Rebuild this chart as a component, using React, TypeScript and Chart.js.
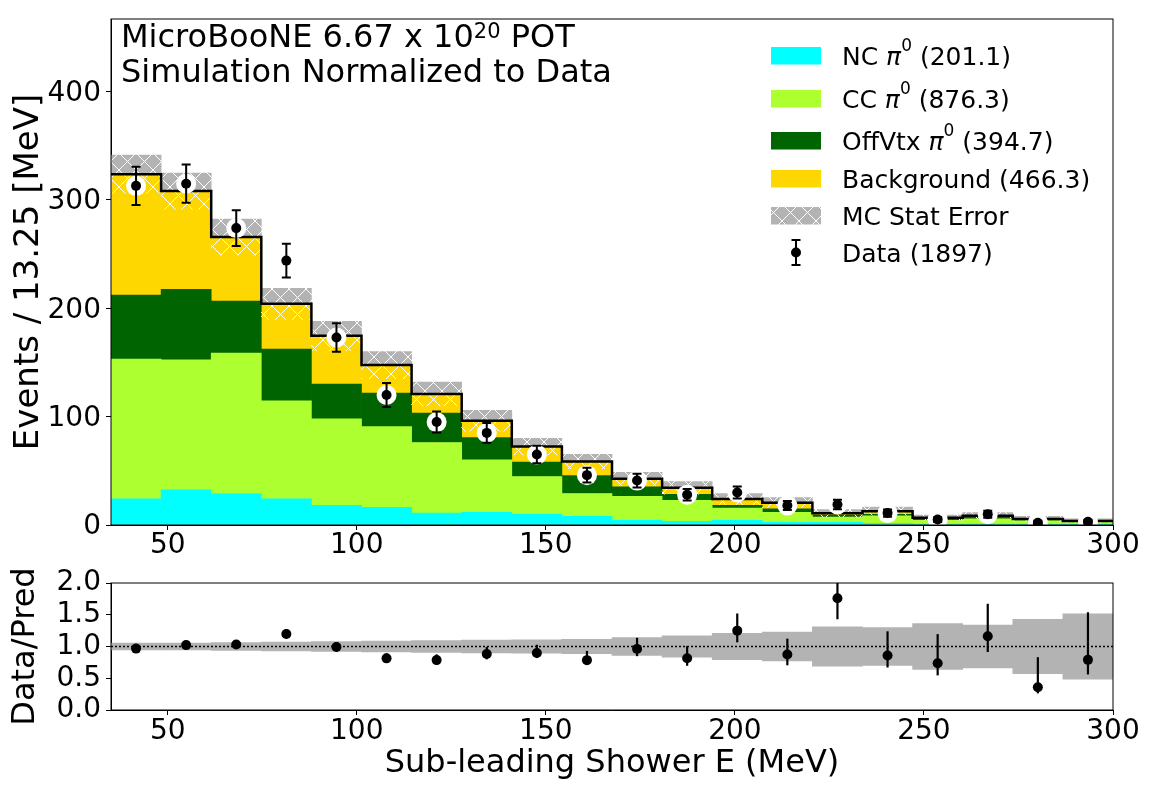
import React, { useEffect, useRef } from 'react';
import { Chart, registerables } from 'chart.js';

Chart.register(...registerables);

const FONT = "'DejaVu Sans', 'Noto Sans', sans-serif";

// histogram binning, sub-leading shower energy (MeV)
const binEdges = [35, 48.25, 61.5, 74.75, 88, 101.25, 114.5, 127.75, 141, 154.25, 167.5, 180.75, 194, 207.25, 220.5, 233.75, 247, 260.25, 273.5, 286.75, 300];

// stacked simulation, events per bin
const ncPi0 = [24.2, 32.5, 29.1, 24.2, 18.1, 16.2, 11.0, 11.6, 10.1, 7.9, 4.3, 3.4, 4.3, 2.4, 2.4, 1.5, 0.8, 0.8, 0.8, 0.8];
const ccPi0 = [129.0, 120.0, 129.6, 90.3, 79.8, 74.6, 65.1, 48.5, 34.7, 21.2, 22.1, 19.3, 11.3, 9.2, 5.0, 6.9, 3.6, 4.8, 3.3, 2.1];
const offVtxPi0 = [58.9, 65.1, 47.9, 47.9, 32.2, 31.0, 27.1, 20.6, 13.2, 16.6, 8.9, 5.5, 2.5, 3.4, 1.8, 1.4, 1.2, 1.5, 0.6, 0.4];
const background = [111.7, 90.6, 59.2, 41.7, 44.5, 25.8, 17.7, 15.6, 14.4, 12.9, 7.3, 6.1, 5.9, 5.6, 1.6, 3.0, 1.2, 1.5, 0.9, 0.5];
const mcStatErr = [17.5, 16.6, 16.5, 14.3, 13.4, 12.5, 11.1, 9.6, 7.7, 6.7, 6.0, 5.8, 5.0, 4.7, 3.35, 3.8, 2.45, 2.9, 2.4, 1.95];

// data
const dataCounts = [313, 315, 274, 244, 173, 120, 95, 85, 65, 46, 41, 28, 30, 18, 19, 11, 5, 10, 2, 3];
const dataErr = [17.7, 17.7, 16.6, 15.6, 13.2, 11.0, 9.7, 9.2, 8.1, 6.8, 6.4, 5.3, 5.5, 4.2, 4.4, 3.3, 2.2, 3.2, 1.4, 1.7];

// data/pred error bars (asymmetric)
const ratioErrUp = [0.06, 0.06, 0.065, 0.08, 0.08, 0.08, 0.09, 0.11, 0.13, 0.145, 0.175, 0.19, 0.27, 0.25, 0.37, 0.38, 0.46, 0.51, 0.475, 0.75];
const ratioErrDown = [0.05, 0.055, 0.06, 0.07, 0.07, 0.065, 0.07, 0.085, 0.08, 0.075, 0.115, 0.12, 0.185, 0.17, 0.33, 0.19, 0.19, 0.25, 0.095, 0.23];

// ticks
const xTicks = [50, 100, 150, 200, 250, 300];
const eventTicks = [0, 100, 200, 300, 400];
const ratioTicks = [0, 0.5, 1.0, 1.5, 2.0];

const COLORS = {
  nc: '#00ffff',
  cc: '#adff2f',
  offvtx: '#006400',
  bkg: '#ffd700',
  stat: '#b3b3b3',
};

const legendEntries = [
  { name: 'NC ', pi0: true, count: ' (201.1)', kind: 'box', color: COLORS.nc },
  { name: 'CC ', pi0: true, count: ' (876.3)', kind: 'box', color: COLORS.cc },
  { name: 'OffVtx ', pi0: true, count: ' (394.7)', kind: 'box', color: COLORS.offvtx },
  { name: 'Background (466.3)', pi0: false, count: '', kind: 'box', color: COLORS.bkg },
  { name: 'MC Stat Error', pi0: false, count: '', kind: 'hatch', color: COLORS.stat },
  { name: 'Data (1897)', pi0: false, count: '', kind: 'data', color: '#000' },
];

type Part = { t: string; size?: number; dy?: number; italic?: boolean };

function drawParts(ctx: CanvasRenderingContext2D, parts: Part[], x: number, y: number, base: number) {
  let cx = x;
  for (const p of parts) {
    const sz = p.size ?? base;
    ctx.font = `${p.italic ? 'italic ' : ''}${sz}px ${FONT}`;
    ctx.fillText(p.t, cx, y + (p.dy ?? 0));
    cx += ctx.measureText(p.t).width;
  }
}

function makeHatch(bg: string | null): CanvasPattern {
  const s = 17;
  const c = document.createElement('canvas');
  c.width = s;
  c.height = s;
  const g = c.getContext('2d')!;
  if (bg) {
    g.fillStyle = bg;
    g.fillRect(0, 0, s, s);
  }
  g.strokeStyle = '#ffffff';
  g.lineWidth = 1;
  g.beginPath();
  g.moveTo(0, 0);
  g.lineTo(s, s);
  g.moveTo(s, 0);
  g.lineTo(0, s);
  g.stroke();
  return g.createPattern(c, 'repeat')!;
}

const tickFont = { family: FONT, size: 28, lineHeight: 1 };
const gridStyle = { display: true, drawOnChartArea: false, drawTicks: true, tickLength: 5, tickColor: '#000', tickWidth: 1, offset: false };
const borderStyle = { display: true, color: '#000', width: 1 };

function drawFrame(chart: any) {
  const { ctx, chartArea } = chart;
  ctx.save();
  ctx.strokeStyle = '#000';
  ctx.lineWidth = 1;
  ctx.strokeRect(chartArea.left, chartArea.top, chartArea.width, chartArea.height);
  ctx.restore();
}

export default function App() {
  const mainRef = useRef<HTMLCanvasElement | null>(null);
  const ratioRef = useRef<HTMLCanvasElement | null>(null);

  useEffect(() => {
    if (!mainRef.current || !ratioRef.current) return;
    const grayHatch = makeHatch(COLORS.stat);
    const clearHatch = makeHatch(null);

    const centers = binEdges.slice(0, -1).map((e, i) => (e + binEdges[i + 1]) / 2);
    const totals = centers.map((_, i) => ncPi0[i] + ccPi0[i] + offVtxPi0[i] + background[i]);

    // floating bars for the stack
    const layers = [
      { label: 'NC pi0', values: ncPi0, color: COLORS.nc },
      { label: 'CC pi0', values: ccPi0, color: COLORS.cc },
      { label: 'OffVtx pi0', values: offVtxPi0, color: COLORS.offvtx },
      { label: 'Background', values: background, color: COLORS.bkg },
    ];
    let base = centers.map(() => 0);
    const stackSets = layers.map((layer) => {
      const data = centers.map((x, i) => ({ x, y: [base[i], base[i] + layer.values[i]] }));
      base = base.map((b, i) => b + layer.values[i]);
      return {
        type: 'bar' as const,
        label: layer.label,
        data,
        backgroundColor: layer.color,
        borderWidth: 0,
        barPercentage: 1,
        categoryPercentage: 1,
        grouped: false,
        order: 10,
      };
    });

    const bandCommon = { type: 'bar' as const, borderWidth: 0, barPercentage: 1, categoryPercentage: 1, grouped: false, order: 8 };

    const mainPlugin = {
      id: 'mainExtras',
      afterDatasetsDraw(chart: any) {
        const { ctx, chartArea, scales } = chart;
        ctx.save();
        ctx.beginPath();
        ctx.rect(chartArea.left, chartArea.top, chartArea.width, chartArea.height);
        ctx.clip();
        ctx.strokeStyle = '#000';
        ctx.lineWidth = 2;
        centers.forEach((c, i) => {
          const px = scales.x.getPixelForValue(c);
          const y0 = scales.y.getPixelForValue(dataCounts[i] - dataErr[i]);
          const y1 = scales.y.getPixelForValue(dataCounts[i] + dataErr[i]);
          ctx.beginPath();
          ctx.moveTo(px, y0);
          ctx.lineTo(px, y1);
          ctx.moveTo(px - 4.5, y0);
          ctx.lineTo(px + 4.5, y0);
          ctx.moveTo(px - 4.5, y1);
          ctx.lineTo(px + 4.5, y1);
          ctx.stroke();
        });
        ctx.restore();
      },
      afterDraw(chart: any) {
        drawFrame(chart);
        const ctx: CanvasRenderingContext2D = chart.ctx;
        ctx.save();
        ctx.fillStyle = '#000';
        ctx.textBaseline = 'alphabetic';
        ctx.textAlign = 'left';
        drawParts(ctx, [{ t: 'MicroBooNE 6.67 x 10' }, { t: '20', size: 21, dy: -9 }, { t: ' POT' }], 121, 47, 32);
        drawParts(ctx, [{ t: 'Simulation Normalized to Data' }], 121, 82, 32);

        // legend
        const baselines = [64.5, 107.5, 149.5, 187.5, 224.5, 261.5];
        legendEntries.forEach((e, k) => {
          const yb = baselines[k];
          if (e.kind === 'box' || e.kind === 'hatch') {
            ctx.fillStyle = e.kind === 'hatch' ? grayHatch : e.color;
            ctx.fillRect(771, yb - 17.5, 50, 17.5);
          } else {
            const cx = 796;
            const cy = yb - 9;
            ctx.strokeStyle = '#000';
            ctx.lineWidth = 2;
            ctx.beginPath();
            ctx.moveTo(cx, cy - 12.5);
            ctx.lineTo(cx, cy + 12.5);
            ctx.moveTo(cx - 4.5, cy - 12.5);
            ctx.lineTo(cx + 4.5, cy - 12.5);
            ctx.moveTo(cx - 4.5, cy + 12.5);
            ctx.lineTo(cx + 4.5, cy + 12.5);
            ctx.stroke();
            ctx.fillStyle = '#000';
            ctx.beginPath();
            ctx.arc(cx, cy, 5, 0, Math.PI * 2);
            ctx.fill();
          }
          ctx.fillStyle = '#000';
          const parts: Part[] = e.pi0
            ? [{ t: e.name }, { t: 'π', italic: true }, { t: '0', size: 17, dy: -14 }, { t: e.count }]
            : [{ t: e.name }];
          drawParts(ctx, parts, 842, yb, 25);
        });
        ctx.restore();
      },
    };

    const mainChart = new Chart(mainRef.current, {
      type: 'bar',
      data: {
        datasets: [
          ...stackSets,
          {
            ...bandCommon,
            label: 'MC stat up',
            data: centers.map((x, i) => ({ x, y: [totals[i], totals[i] + mcStatErr[i]] })),
            backgroundColor: grayHatch,
          },
          {
            ...bandCommon,
            label: 'MC stat down',
            data: centers.map((x, i) => ({ x, y: [totals[i] - mcStatErr[i], totals[i]] })),
            backgroundColor: clearHatch,
          },
          {
            type: 'line',
            label: 'Total',
            data: binEdges.map((x, i) => ({ x, y: totals[Math.min(i, totals.length - 1)] })),
            stepped: true,
            borderColor: '#000',
            borderWidth: 2.5,
            pointRadius: 0,
            fill: false,
            order: 6,
          },
          {
            type: 'scatter',
            label: 'halo',
            data: centers.map((x, i) => ({ x, y: dataCounts[i] })),
            pointRadius: 10,
            pointBackgroundColor: '#fff',
            pointBorderWidth: 0,
            clip: 0,
            order: 4,
          },
          {
            type: 'scatter',
            label: 'Data',
            data: centers.map((x, i) => ({ x, y: dataCounts[i] })),
            pointRadius: 5,
            pointBackgroundColor: '#000',
            pointBorderWidth: 0,
            clip: 0,
            order: 2,
          },
        ] as any,
      },
      options: {
        responsive: false,
        animation: false,
        layout: { padding: { left: 0, right: 39, top: 18, bottom: 0 } },
        plugins: { legend: { display: false }, tooltip: { enabled: false } },
        scales: {
          x: {
            type: 'linear',
            min: 35,
            max: 300,
            offset: false,
            afterBuildTicks: (axis: any) => { axis.ticks = xTicks.map((v) => ({ value: v })); },
            afterFit: (axis: any) => { axis.height = 35; },
            grid: gridStyle,
            border: borderStyle,
            ticks: { color: '#000', font: tickFont, padding: 2, maxRotation: 0 },
          },
          y: {
            type: 'linear',
            min: 0,
            max: 467,
            afterBuildTicks: (axis: any) => { axis.ticks = eventTicks.map((v) => ({ value: v })); },
            afterFit: (axis: any) => { axis.width = 111; },
            grid: gridStyle,
            border: borderStyle,
            ticks: { color: '#000', font: tickFont, padding: 5, labelOffset: 2 },
            title: {
              display: true,
              text: 'Events / 13.25 [MeV]',
              color: '#000',
              font: { family: FONT, size: 34 },
              padding: { top: 9, bottom: 0 },
            },
          },
        },
      } as any,
      plugins: [mainPlugin],
    });

    const ratios = centers.map((_, i) => dataCounts[i] / totals[i]);

    const ratioPlugin = {
      id: 'ratioExtras',
      afterDatasetsDraw(chart: any) {
        const { ctx, chartArea, scales } = chart;
        ctx.save();
        ctx.beginPath();
        ctx.rect(chartArea.left, chartArea.top, chartArea.width, chartArea.height);
        ctx.clip();
        ctx.strokeStyle = '#000';
        ctx.lineWidth = 2.2;
        centers.forEach((c, i) => {
          const px = scales.x.getPixelForValue(c);
          const y0 = scales.y.getPixelForValue(ratios[i] - ratioErrDown[i]);
          const y1 = scales.y.getPixelForValue(ratios[i] + ratioErrUp[i]);
          ctx.beginPath();
          ctx.moveTo(px, y0);
          ctx.lineTo(px, y1);
          ctx.stroke();
        });
        ctx.restore();
      },
      afterDraw(chart: any) {
        drawFrame(chart);
      },
    };

    const ratioChart = new Chart(ratioRef.current, {
      type: 'bar',
      data: {
        datasets: [
          {
            type: 'bar',
            label: 'MC stat',
            data: centers.map((x, i) => ({ x, y: [1 - mcStatErr[i] / totals[i], 1 + mcStatErr[i] / totals[i]] })),
            backgroundColor: COLORS.stat,
            borderWidth: 0,
            barPercentage: 1,
            categoryPercentage: 1,
            grouped: false,
            order: 10,
          },
          {
            type: 'line',
            label: 'unity',
            data: [{ x: 35, y: 1 }, { x: 300, y: 1 }],
            borderColor: '#000',
            borderWidth: 1.5,
            borderDash: [2, 2],
            pointRadius: 0,
            fill: false,
            order: 6,
          },
          {
            type: 'scatter',
            label: 'Data/Pred',
            data: centers.map((x, i) => ({ x, y: ratios[i] })),
            pointRadius: 5,
            pointBackgroundColor: '#000',
            pointBorderWidth: 0,
            order: 2,
          },
        ] as any,
      },
      options: {
        responsive: false,
        animation: false,
        layout: { padding: { left: 0, right: 39, top: 23, bottom: 0 } },
        plugins: { legend: { display: false }, tooltip: { enabled: false } },
        scales: {
          x: {
            type: 'linear',
            min: 35,
            max: 300,
            offset: false,
            afterBuildTicks: (axis: any) => { axis.ticks = xTicks.map((v) => ({ value: v })); },
            afterFit: (axis: any) => { axis.height = 82; },
            grid: gridStyle,
            border: borderStyle,
            ticks: { color: '#000', font: tickFont, padding: 3, maxRotation: 0 },
            title: {
              display: true,
              text: 'Sub-leading Shower E (MeV)',
              color: '#000',
              font: { family: FONT, size: 32 },
              padding: { top: 0, bottom: 9 },
            },
          },
          y: {
            type: 'linear',
            min: 0,
            max: 2,
            afterBuildTicks: (axis: any) => { axis.ticks = ratioTicks.map((v) => ({ value: v })); },
            afterFit: (axis: any) => { axis.width = 111; },
            grid: gridStyle,
            border: borderStyle,
            ticks: { color: '#000', font: tickFont, padding: 5, callback: (v: any) => Number(v).toFixed(1) },
            title: {
              display: true,
              text: 'Data/Pred',
              color: '#000',
              font: { family: FONT, size: 32 },
              padding: { top: 6, bottom: 0 },
            },
          },
        },
      } as any,
      plugins: [ratioPlugin],
    });

    return () => {
      mainChart.destroy();
      ratioChart.destroy();
    };
  }, []);

  return (
    <div style={{ position: 'fixed', left: 0, top: 0, width: 1152, height: 792, background: '#fff' }}>
      <canvas ref={mainRef} width={1152} height={560} style={{ position: 'absolute', left: 0, top: 0, width: 1152, height: 560 }} />
      <canvas ref={ratioRef} width={1152} height={232} style={{ position: 'absolute', left: 0, top: 560, width: 1152, height: 232 }} />
    </div>
  );
}
